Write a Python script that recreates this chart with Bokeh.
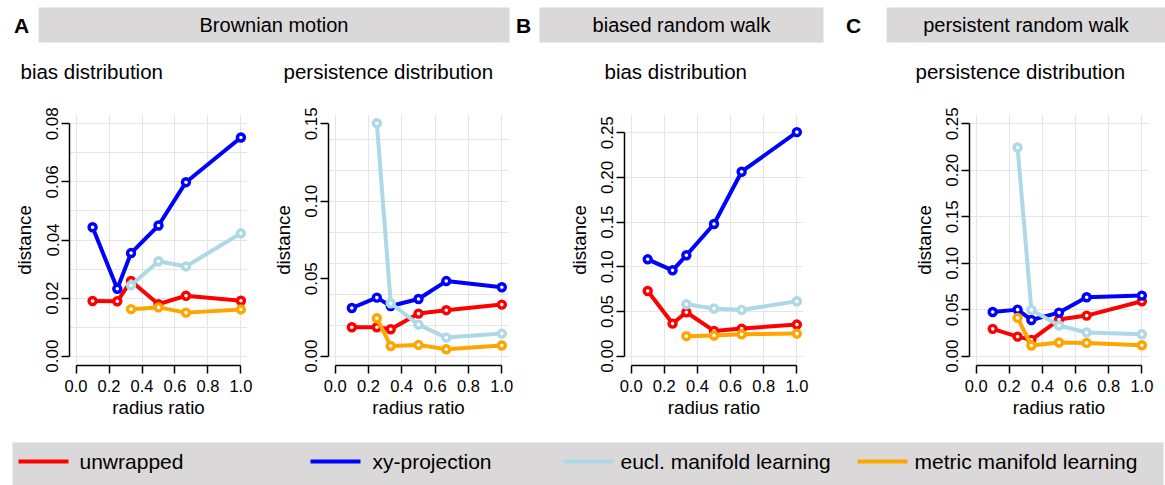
import math
from bokeh.plotting import figure
from bokeh.layouts import column, row
from bokeh.models import Range1d, FixedTicker, NumeralTickFormatter, LinearAxis, ColumnDataSource
from bokeh.core.properties import value
from bokeh.embed import file_html
from bokeh.resources import INLINE

FONT = "Liberation Sans"
NA = float("nan")

# ---------------- data ----------------
radius_ratio = [0.1, 0.25, 1 / 3, 0.5, 2 / 3, 1.0]
x_ticks = [0.0, 0.2, 0.4, 0.6, 0.8, 1.0]

methods = ["unwrapped", "xy-projection", "eucl. manifold learning", "metric manifold learning"]
method_colors = ["#FF0000", "#0000FF", "#ADD8E6", "#FFA500"]

# A: Brownian motion - bias distribution
bm_bias_unwrapped = [0.0190, 0.0189, 0.0259, 0.0179, 0.0208, 0.0191]
bm_bias_xy = [0.0444, 0.0232, 0.0355, 0.0450, 0.0599, 0.0753]
bm_bias_eucl = [NA, NA, 0.0244, 0.0327, 0.0309, 0.0423]
bm_bias_metric = [NA, NA, 0.0162, 0.0168, 0.0150, 0.0161]

# A: Brownian motion - persistence distribution
bm_pers_unwrapped = [0.0187, 0.0187, 0.0174, 0.0275, 0.0297, 0.0333]
bm_pers_xy = [0.0311, 0.0378, 0.0324, 0.0369, 0.0485, 0.0445]
bm_pers_eucl = [NA, 0.1504, 0.0342, 0.0204, 0.0120, 0.0146]
bm_pers_metric = [NA, 0.0245, 0.0066, 0.0073, 0.0045, 0.0069]

# B: biased random walk - bias distribution
brw_bias_unwrapped = [0.0730, 0.0365, 0.0492, 0.0283, 0.0309, 0.0354]
brw_bias_xy = [0.1084, 0.0961, 0.1129, 0.1479, 0.2064, 0.2507]
brw_bias_eucl = [NA, NA, 0.0581, 0.0533, 0.0518, 0.0615]
brw_bias_metric = [NA, NA, 0.0224, 0.0231, 0.0246, 0.0253]

# C: persistent random walk - persistence distribution
prw_pers_unwrapped = [0.0294, 0.0211, 0.0176, 0.0394, 0.0437, 0.0591]
prw_pers_xy = [0.0476, 0.0501, 0.0390, 0.0469, 0.0634, 0.0652]
prw_pers_eucl = [NA, 0.2245, 0.0498, 0.0330, 0.0255, 0.0236]
prw_pers_metric = [NA, 0.0412, 0.0115, 0.0147, 0.0143, 0.0118]

bm_bias_yticks = [0.0, 0.02, 0.04, 0.06, 0.08]
bm_pers_yticks = [0.0, 0.05, 0.10, 0.15]
brw_bias_yticks = [0.0, 0.05, 0.10, 0.15, 0.20, 0.25]
prw_pers_yticks = [0.0, 0.05, 0.10, 0.15, 0.20, 0.25]

group_titles = ["Brownian motion", "biased random walk", "persistent random walk"]
group_letters = ["A", "B", "C"]
panel_titles = ["bias distribution", "persistence distribution", "bias distribution", "persistence distribution"]

# ---------------- helpers ----------------
ROW_H = 345
HEAD_H = 95
LEG_H = 45


def make_panel(width, left, right, yrange, yticks, series):
    p = figure(width=width, height=ROW_H, x_range=Range1d(-0.04, 1.04), y_range=Range1d(*yrange),
               output_backend="svg", toolbar_location=None,
               x_axis_location=None, y_axis_location=None,
               min_border_left=left, min_border_right=right, min_border_top=19, min_border_bottom=75)
    p.outline_line_color = None
    p.background_fill_color = "white"
    p.border_fill_color = "white"

    xa = LinearAxis(ticker=FixedTicker(ticks=x_ticks), formatter=NumeralTickFormatter(format="0.0"),
                    bounds=(0, 1), axis_label="radius ratio")
    ya = LinearAxis(ticker=FixedTicker(ticks=yticks), formatter=NumeralTickFormatter(format="0.00"),
                    bounds=(0, max(yticks)), axis_label="distance")
    ya.major_label_orientation = "vertical"
    for ax, fs in ((xa, "16.5px"), (ya, "17px")):
        ax.minor_tick_line_color = None
        ax.major_tick_in = 0
        ax.major_tick_out = 8
        ax.axis_line_width = 1.5
        ax.major_tick_line_width = 1.5
        ax.axis_line_color = "black"
        ax.major_tick_line_color = "black"
        ax.major_label_text_font = FONT
        ax.major_label_text_font_size = fs
        ax.major_label_text_color = "black"
        ax.axis_label_text_font = FONT
        ax.axis_label_text_font_size = "18.7px"
        ax.axis_label_text_font_style = "normal"
        ax.axis_label_text_color = "black"
    xa.major_label_standoff = 6
    xa.axis_label_standoff = 2
    ya.major_label_standoff = 3
    ya.axis_label_standoff = 9
    p.add_layout(xa, "below")
    p.add_layout(ya, "left")

    for vals, col in zip(series, method_colors):
        xs = [x for x, v in zip(radius_ratio, vals) if not math.isnan(v)]
        ys = [v for v in vals if not math.isnan(v)]
        src = ColumnDataSource(dict(x=xs, y=ys))
        p.line("x", "y", source=src, line_color=col, line_width=4)
        p.scatter("x", "y", source=src, marker="circle", size=7, line_color=col, line_width=3.4,
                  fill_color="white")
    return p


p1 = make_panel(260, 69, 13, (-0.0032, 0.0832), bm_bias_yticks,
                [bm_bias_unwrapped, bm_bias_xy, bm_bias_eucl, bm_bias_metric])
p2 = make_panel(270, 68, 22, (-0.006, 0.156), bm_pers_yticks,
                [bm_pers_unwrapped, bm_pers_xy, bm_pers_eucl, bm_pers_metric])
p3 = make_panel(350, 94, 77, (-0.0104, 0.2704), brw_bias_yticks,
                [brw_bias_unwrapped, brw_bias_xy, brw_bias_eucl, brw_bias_metric])
p4 = make_panel(285, 89, 17, (-0.01, 0.26), prw_pers_yticks,
                [prw_pers_unwrapped, prw_pers_xy, prw_pers_eucl, prw_pers_metric])

# ---------------- header (group bars, letters, panel titles) ----------------
head = figure(width=1165, height=HEAD_H, x_range=Range1d(0, 1165), y_range=Range1d(HEAD_H, 0),
              output_backend="svg", toolbar_location=None, x_axis_location=None, y_axis_location=None,
              min_border=0)
head.outline_line_color = None
head.grid.visible = False
bar_left = [38, 539, 886]
bar_right = [509, 823, 1165]
head.quad(left=bar_left, right=bar_right, top=[7] * 3, bottom=[42] * 3,
          fill_color="#DAD8D9", line_color=None)
head.text(x=[(l + r) / 2 for l, r in zip(bar_left, bar_right)], y=[24.5] * 3, text=group_titles,
          text_font=value(FONT), text_font_size="20px", text_align="center", text_baseline="middle",
          text_color="black")
head.text(x=[21, 523, 853], y=[24.5] * 3, text=group_letters, text_font=value(FONT), text_font_size="21px",
          text_font_style="bold", text_align="center", text_baseline="middle", text_color="black")
head.text(x=[20, 283, 604, 915], y=[71] * 4, text=panel_titles, text_font=value(FONT),
          text_font_size="20.5px", text_align="left", text_baseline="middle", text_color="black")

# ---------------- legend bar ----------------
leg = figure(width=1165, height=LEG_H, x_range=Range1d(0, 1165), y_range=Range1d(LEG_H, 0),
             output_backend="svg", toolbar_location=None, x_axis_location=None, y_axis_location=None,
             min_border=0)
leg.outline_line_color = None
leg.grid.visible = False
leg.quad(left=[12], right=[1163], top=[2], bottom=[LEG_H], fill_color="#DAD8D9", line_color=None)
seg_x0 = [18, 310, 563, 857]
leg.segment(x0=seg_x0, x1=[x + 50 for x in seg_x0], y0=[21] * 4, y1=[21] * 4,
            line_color=method_colors, line_width=4)
leg.text(x=[79, 372, 620, 914], y=[21] * 4, text=methods, text_font=value(FONT), text_font_size="21px",
         text_align="left", text_baseline="middle", text_color="black")

layout = column(head, row(p1, p2, p3, p4, spacing=0), leg, spacing=0)
open("out.html", "w").write(file_html(layout, INLINE))
